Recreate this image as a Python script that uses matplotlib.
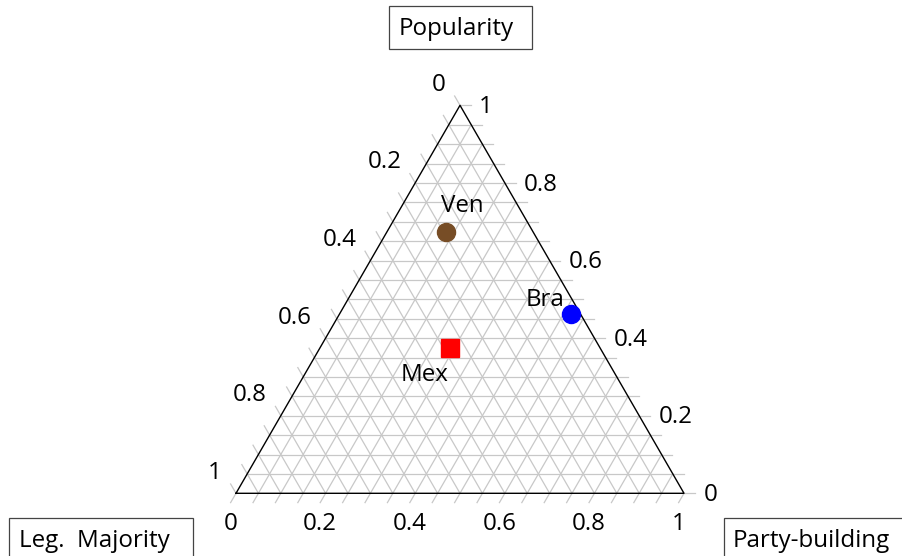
import matplotlib.pyplot as plt
from matplotlib.patches import Rectangle
import numpy as np

plt.rcParams['font.family'] = ['Open Sans', 'DejaVu Sans']

# ternary data: (leg. majority, party-building, popularity)
countries = ["Ven", "Bra", "Mex"]
leg_majority = [0.195, 0.022, 0.335]
party_building = [0.132, 0.517, 0.290]
popularity = [0.673, 0.461, 0.375]
colors = ["#774d26", "#0000ff", "#ff0000"]
markers = ["o", "o", "s"]
label_offsets = [(12, 18.5), (-18.5, 10.5), (-18, -19.5)]

tick_values = np.arange(0, 1.0001, 0.05)
tick_labels = [0, 0.2, 0.4, 0.6, 0.8, 1]

H = np.sqrt(3) / 2
FS = 17.4


def to_xy(b, p):
    return b + p / 2, p * H


fig = plt.figure(figsize=(9.02, 5.56), dpi=100)
ax = fig.add_axes([0, 0, 1, 1])
# base of the triangle sits at x=236..684 px, y=493.3 px
ax.set_xlim(-236 / 448, (902 - 236) / 448)
ax.set_ylim((493.3 - 556) / 448, 493.3 / 448)
ax.axis("off")

grid_c = "#c8c8c8"
tl = 0.024

# -------- grid --------
for v in tick_values[1:-1]:
    # popularity = v (horizontal)
    ax.plot([v / 2, 1 - v / 2], [v * H, v * H], color=grid_c, lw=0.9, zorder=1)
    # party-building = v
    x0, y0 = to_xy(v, 0)
    x1, y1 = to_xy(v, 1 - v)
    ax.plot([x0, x1], [y0, y1], color=grid_c, lw=0.9, zorder=1)
    # leg. majority = v
    x0, y0 = to_xy(1 - v, 0)
    x1, y1 = to_xy(0, 1 - v)
    ax.plot([x0, x1], [y0, y1], color=grid_c, lw=0.9, zorder=1)

# -------- ticks --------
for v in tick_values:
    # bottom (party-building)
    x, y = to_xy(v, 0)
    ax.plot([x, x - 0.5 * tl], [y, y - H * tl], color=grid_c, lw=0.9, zorder=1)
    # left (leg. majority)
    x, y = to_xy(0, 1 - v)
    ax.plot([x, x - 0.5 * tl], [y, y + H * tl], color=grid_c, lw=0.9, zorder=1)
    # right (popularity)
    x, y = to_xy(1 - v, v)
    ax.plot([x, x + tl], [y, y], color=grid_c, lw=0.9, zorder=1)

# -------- triangle outline --------
ax.plot([0, 1, 0.5, 0], [0, 0, H, 0], color="black", lw=1.0, zorder=2)

# -------- tick labels --------
for v in tick_labels:
    s = "%g" % v
    x, y = to_xy(v, 0)
    ax.text(x - 0.012, y - 0.068, s, ha="center", va="center", fontsize=FS)
    x, y = to_xy(0, 1 - v)
    ax.text(x - 0.031, y + 0.046, s, ha="right", va="center", fontsize=FS)
    x, y = to_xy(1 - v, v)
    ax.text(x + 0.043, y - 0.004, s, ha="left", va="center", fontsize=FS)

# -------- points --------
for i, name in enumerate(countries):
    x, y = to_xy(party_building[i], popularity[i])
    ax.plot(x, y, marker=markers[i], color=colors[i], markersize=13,
            linestyle="none", zorder=3)
    ax.annotate(name, (x, y), xytext=label_offsets[i], textcoords="offset points",
                ha="center", va="center", fontsize=FS)

# -------- corner titles --------
W, Hpx = 902, 556


def corner_box(x0, y0, x1, y1, text, tx):
    fig.patches.append(Rectangle((x0 / W, 1 - y1 / Hpx), (x1 - x0) / W, (y1 - y0) / Hpx,
                                 transform=fig.transFigure, facecolor="white",
                                 edgecolor="#444444", lw=0.9))
    fig.text(tx / W, 1 - (y0 + 23) / Hpx, text, ha="left", va="center", fontsize=FS)


corner_box(388.5, 6, 531.5, 49.3, "Popularity", 399)
corner_box(9, 518.3, 193.3, 562, "Leg.  Majority", 19.3)
corner_box(724.3, 517.7, 905, 562, "Party-building", 733)

fig.savefig("out.png", dpi=100)
